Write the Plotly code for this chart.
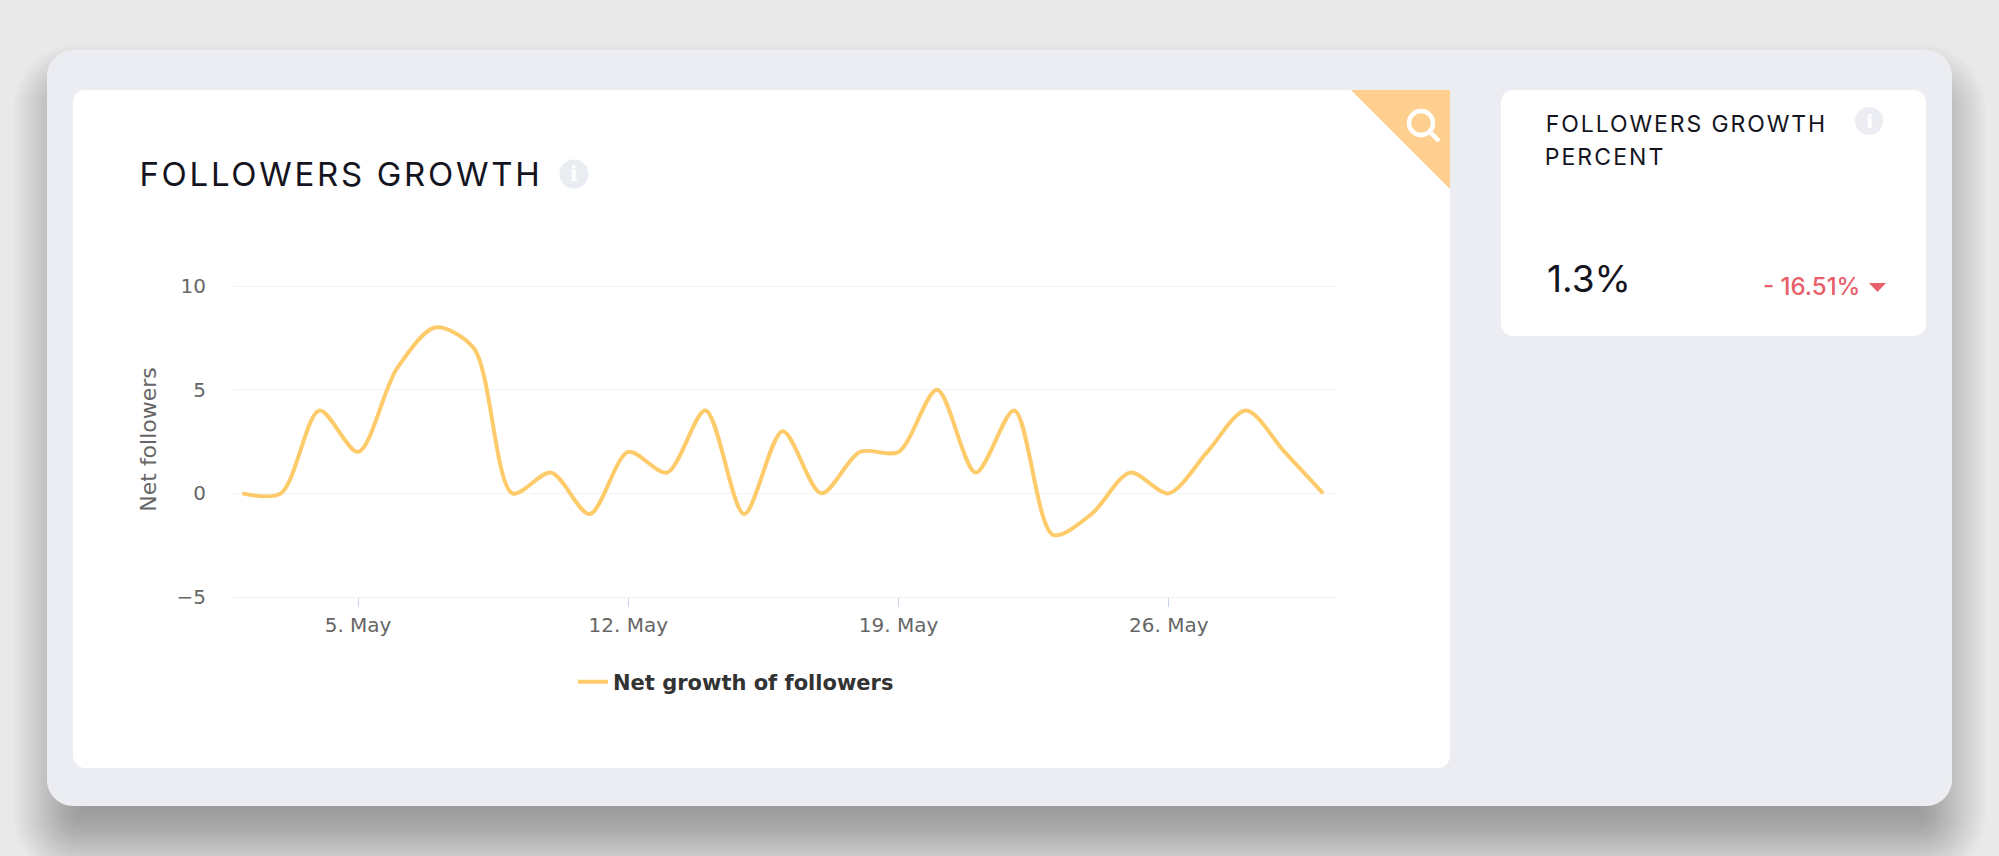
import plotly.graph_objects as go

W, H = 1999, 856

# Data
dates = ['2019-05-02', '2019-05-03', '2019-05-04', '2019-05-05', '2019-05-06', '2019-05-07',
         '2019-05-08', '2019-05-09', '2019-05-10', '2019-05-11', '2019-05-12', '2019-05-13',
         '2019-05-14', '2019-05-15', '2019-05-16', '2019-05-17', '2019-05-18', '2019-05-19',
         '2019-05-20', '2019-05-21', '2019-05-22', '2019-05-23', '2019-05-24', '2019-05-25',
         '2019-05-26', '2019-05-27', '2019-05-28', '2019-05-29', '2019-05-30']
net_followers = [0, 0, 4, 2, 6, 8, 7, 0, 1, -1, 2, 1, 4, -1, 3, 0, 2, 2, 5, 1, 4, -2, -1, 1, 0, 2, 4, 2, 0]
tick_dates = ['2019-05-05', '2019-05-12', '2019-05-19', '2019-05-26']
tick_labels = ['5. May', '12. May', '19. May', '26. May']
y_ticks = [-5, 0, 5, 10]
y_labels = ['−5', '0', '5', '10']


# pixel helpers, everything outside the plot is placed in page pixels
def px(x):
    return x / W


def py(y):
    return 1 - y / H


def rounded(x0, y0, x1, y1, r):
    k = r * 0.45
    pts = [
        f'M{px(x0 + r)},{py(y0)}',
        f'L{px(x1 - r)},{py(y0)}',
        f'C{px(x1 - k)},{py(y0)} {px(x1)},{py(y0 + k)} {px(x1)},{py(y0 + r)}',
        f'L{px(x1)},{py(y1 - r)}',
        f'C{px(x1)},{py(y1 - k)} {px(x1 - k)},{py(y1)} {px(x1 - r)},{py(y1)}',
        f'L{px(x0 + r)},{py(y1)}',
        f'C{px(x0 + k)},{py(y1)} {px(x0)},{py(y1 - k)} {px(x0)},{py(y1 - r)}',
        f'L{px(x0)},{py(y0 + r)}',
        f'C{px(x0)},{py(y0 + k)} {px(x0 + k)},{py(y0)} {px(x0 + r)},{py(y0)}',
        'Z',
    ]
    return ' '.join(pts)


def panel(x0, y0, x1, y1, r, color, opacity=1):
    return dict(type='path', path=rounded(x0, y0, x1, y1, r), xref='paper', yref='paper',
                fillcolor=color, opacity=opacity, line_width=0, layer='below')


def circle(cx, cy, r, **kw):
    return dict(type='circle', xref='paper', yref='paper', x0=px(cx - r), x1=px(cx + r),
                y0=py(cy + r), y1=py(cy - r), layer='below', **kw)


def label(x, y, text, size, color, family='Inter', anchor='center', weight=400):
    return dict(x=px(x), y=py(y), xref='paper', yref='paper', text=text, showarrow=False,
                xanchor=anchor, yanchor='middle',
                font=dict(family=family, size=size, color=color, weight=weight))


shapes = []

# soft drop shadow under the outer card
for i in range(28):
    grow = 40 - i * 2.5
    side = grow - 6
    shapes.append(panel(47 - side, 50 + 34 - grow, 1952 + side, 806 + 34 + grow,
                        max(26 + grow, 6), '#000000', 0.0102))

shapes.append(panel(47, 50, 1952, 806, 26, '#ecedf2'))
shapes.append(panel(73, 90, 1450, 768, 12, '#ffffff'))
shapes.append(panel(1501, 90, 1926, 336, 12, '#ffffff'))

# search corner
shapes.append(dict(type='path', xref='paper', yref='paper', fillcolor='#fecf8f', line_width=0, layer='below',
                   path=f'M{px(1351)},{py(90)} L{px(1450)},{py(90)} L{px(1450)},{py(189)} Z'))
shapes.append(circle(1421, 123, 12, line=dict(color='#ffffff', width=4.5)))
shapes.append(dict(type='line', xref='paper', yref='paper', x0=px(1430), y0=py(132), x1=px(1439), y1=py(141),
                   line=dict(color='#ffffff', width=4.5), layer='below'))

# info icons
shapes.append(circle(574, 174, 14.5, fillcolor='#e9edf1', line_width=0))
shapes.append(circle(1869, 121, 14, fillcolor='#ecedf2', line_width=0))

# red arrow next to the change
shapes.append(dict(type='path', xref='paper', yref='paper', fillcolor='#e8606a', line_width=0, layer='below',
                   path=f'M{px(1869)},{py(283)} L{px(1886)},{py(283)} L{px(1877.5)},{py(292)} Z'))

annotations = [
    label(341, 174, 'FOLLOWERS GROWTH', 33, '#14141e'),
    label(1686, 124, 'FOLLOWERS GROWTH', 23, '#14141e'),
    label(1605, 157, 'PERCENT', 23, '#14141e'),
    label(574, 174, 'i', 20, '#ffffff', family='DejaVu Serif', weight=700),
    label(1869, 121, 'i', 19, '#ffffff', family='DejaVu Serif', weight=700),
    label(1545, 278, '1.3%', 37, '#14141e', anchor='left'),
    label(1862, 286, '- 16.51%', 24, '#e8606a', anchor='right', weight=500),
]

fig = go.Figure()
fig.add_trace(go.Scatter(
    x=dates, y=net_followers, mode='lines', name='Net growth of followers',
    line=dict(color='#fecb6b', width=4, shape='spline', smoothing=0.85),
    hoverinfo='skip',
))

fig.update_layout(
    width=W, height=H,
    margin=dict(l=0, r=0, t=0, b=0, autoexpand=False),
    paper_bgcolor='#e9e9e9',
    plot_bgcolor='rgba(0,0,0,0)',
    shapes=shapes,
    annotations=annotations,
    showlegend=True,
    legend=dict(x=px(573), y=py(682), xanchor='left', yanchor='middle', bgcolor='rgba(0,0,0,0)',
                font=dict(family='DejaVu Sans', size=21, color='#333333', weight=700)),
    xaxis=dict(
        domain=[px(233), px(1336)], type='date',
        range=['2019-05-01 18:15', '2019-05-30 08:00'],
        tickvals=tick_dates, ticktext=tick_labels,
        ticks='outside', ticklen=9, tickcolor='#ccd6eb', tickwidth=1, ticklabelstandoff=1,
        tickfont=dict(family='DejaVu Sans', size=20, color='#666666'),
        showgrid=False, showline=True, linecolor='#f0f0f4', linewidth=1, zeroline=False,
        anchor='y', automargin=False,
    ),
    yaxis=dict(
        domain=[py(597), py(281.9)], range=[-5, 10.2],
        tickvals=y_ticks, ticktext=y_labels,
        ticks='', ticklabelstandoff=26,
        tickfont=dict(family='DejaVu Sans', size=20, color='#666666'),
        showgrid=True, gridcolor='#f3f3f3', gridwidth=1, zeroline=False, showline=False,
        title=dict(text='Net followers', standoff=13,
                   font=dict(family='DejaVu Sans', size=22, color='#666666')),
        anchor='x', automargin=False,
    ),
)

# page edge to edge, and Montserrat's wider tracking on the three heading lines
post = """
document.body.style.margin='0';
document.body.style.overflow='hidden';
var spacing = ['2.7px', '1.9px', '2.1px'];
var notes = document.querySelectorAll('.annotation-text');
spacing.forEach(function (s, i) { notes[i].style.letterSpacing = s; });
"""
fig.write_html('out.html', post_script=post, config={'displayModeBar': False})
